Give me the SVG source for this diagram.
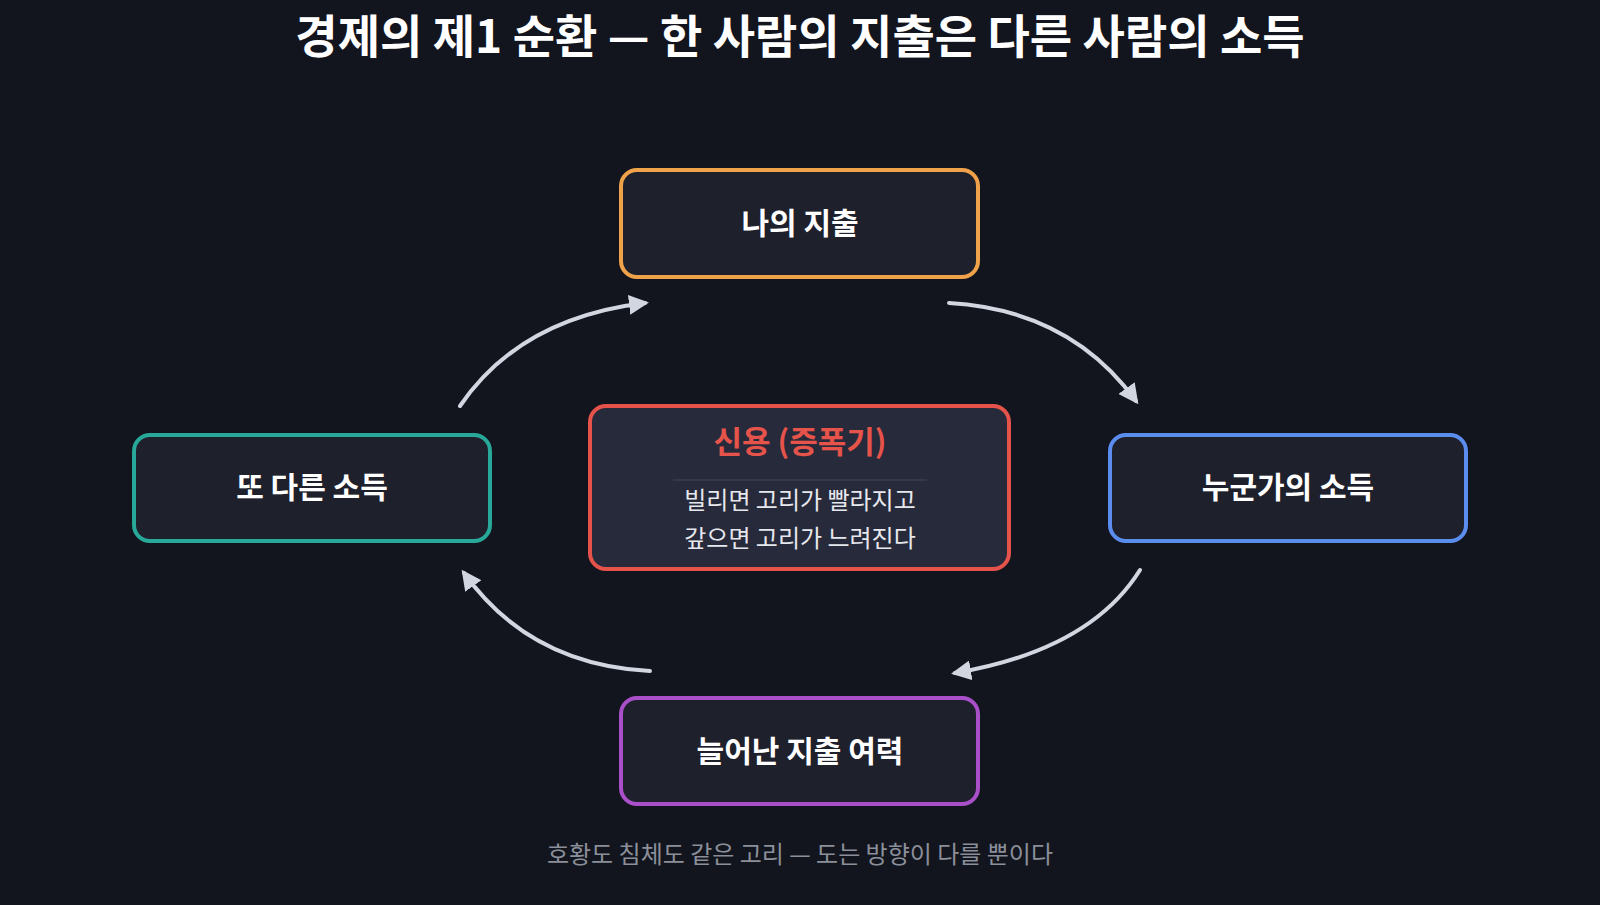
<svg xmlns="http://www.w3.org/2000/svg" width="1600" height="905" viewBox="0 0 1600 905">
<defs>
<style>
.t{font-family:"Noto Sans CJK KR","Noto Sans",sans-serif;text-anchor:middle;dominant-baseline:central}
.n{fill:#1e202c;stroke-width:4}
.lbl{fill:#ffffff;font-size:30px;font-weight:700}
.c{fill:none;stroke:#d2d6e0;stroke-width:4;stroke-linecap:round;marker-end:url(#ah)}
</style>
<marker id="ah" viewBox="0 0 10 10" refX="8" refY="5" markerWidth="5" markerHeight="5" orient="auto"><path d="M0,0L10,5L0,10z" fill="#d2d6e0"/></marker>
</defs>
<rect width="1600" height="905" fill="#12151e"/>
<text class="t" x="800" y="33" fill="#fff" font-size="46" font-weight="700">경제의 제1 순환 — 한 사람의 지출은 다른 사람의 소득</text>
<g id="connectors">
<path class="c" d="M949,303 Q1070,310 1136,401"/>
<path class="c" d="M1140,570 Q1090,650 955,673"/>
<path class="c" d="M650,671 Q530,665 464,573"/>
<path class="c" d="M460,406 Q520,318 645,303"/>
</g>
<g id="n1"><rect class="n" x="621" y="170" width="357" height="107" rx="16" stroke="#f0a24a"/><text class="t lbl" x="800" y="221">나의 지출</text></g>
<g id="n2"><rect class="n" x="1110" y="435" width="356" height="106" rx="16" stroke="#5b8dee"/><text class="t lbl" x="1288" y="485">누군가의 소득</text></g>
<g id="n3"><rect class="n" x="621" y="698" width="357" height="106" rx="16" stroke="#a94fc9"/><text class="t lbl" x="800" y="749">늘어난 지출 여력</text></g>
<g id="n4"><rect class="n" x="134" y="435" width="356" height="106" rx="16" stroke="#27a898"/><text class="t lbl" x="312" y="485">또 다른 소득</text></g>
<g id="center"><rect x="590" y="406" width="419" height="163" rx="16" fill="#262a3a" stroke="#e5534b" stroke-width="4"/>
<text class="t" x="800" y="439" fill="#e5534b" font-size="31" font-weight="700">신용 (증폭기)</text>
<line x1="673" y1="480" x2="927" y2="480" stroke="#3a3e4e" stroke-width="1.5"/>
<text class="t" x="800" y="498" fill="#e6e8ee" font-size="24">빌리면 고리가 빨라지고</text>
<text class="t" x="800" y="536" fill="#e6e8ee" font-size="24">갚으면 고리가 느려진다</text></g>
<text class="t" x="800" y="852" fill="#8b8f99" font-size="24">호황도 침체도 같은 고리 — 도는 방향이 다를 뿐이다</text>
</svg>
